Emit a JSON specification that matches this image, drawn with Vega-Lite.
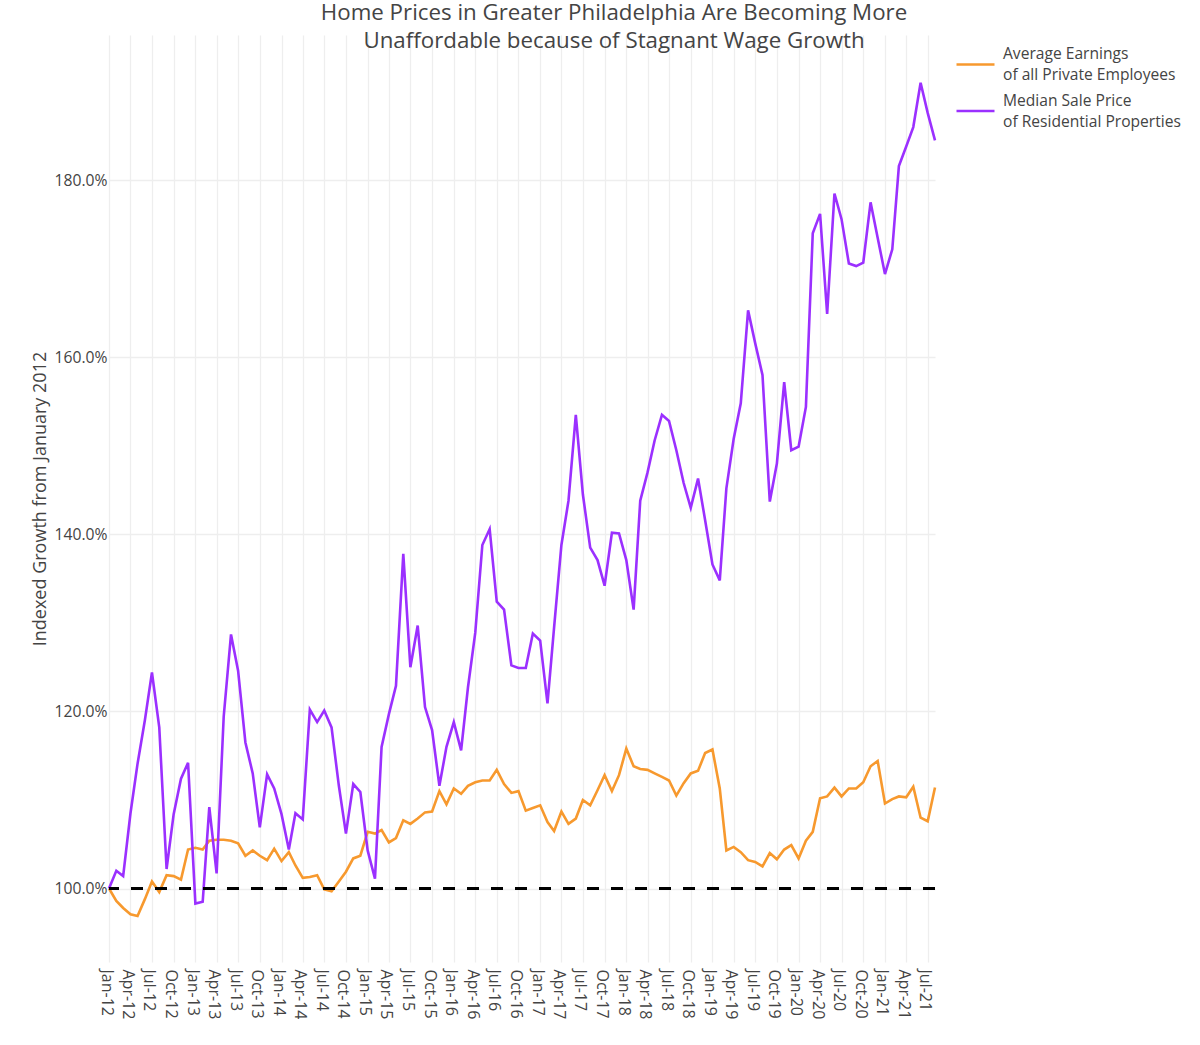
{
  "$schema": "https://vega.github.io/schema/vega-lite/v6.json",
  "autosize": {"type": "none"},
  "padding": {"left": 109, "top": 35, "right": 265, "bottom": 83},
  "width": 826,
  "height": 927,
  "background": "white",
  "title": {
    "text": ["Home Prices in Greater Philadelphia Are Becoming More", "Unaffordable because of Stagnant Wage Growth"],
    "font": "Open Sans",
    "fontSize": 22.3,
    "fontWeight": "normal",
    "color": "#444444",
    "anchor": "middle",
    "frame": "group",
    "dx": 92,
    "offset": -17,
    "lineHeight": 28
  },
  "config": {
    "view": {"stroke": null},
    "font": "Open Sans",
    "axis": {"gridColor": "#eeeeee", "gridWidth": 1.3, "domain": false, "ticks": false, "labelColor": "#444444", "labelFont": "Open Sans", "titleColor": "#444444", "titleFont": "Open Sans", "titleFontWeight": "normal"}
  },
  "data": {
    "values": [
      {"date": "2012-01-01", "Average Earnings": 100.0, "Median Sale Price": 100.0},
      {"date": "2012-02-01", "Average Earnings": 98.6, "Median Sale Price": 102.0},
      {"date": "2012-03-01", "Average Earnings": 97.8, "Median Sale Price": 101.4},
      {"date": "2012-04-01", "Average Earnings": 97.1, "Median Sale Price": 108.5},
      {"date": "2012-05-01", "Average Earnings": 96.9, "Median Sale Price": 114.1},
      {"date": "2012-06-01", "Average Earnings": 98.8, "Median Sale Price": 119.0},
      {"date": "2012-07-01", "Average Earnings": 100.8, "Median Sale Price": 124.4},
      {"date": "2012-08-01", "Average Earnings": 99.6, "Median Sale Price": 118.2},
      {"date": "2012-09-01", "Average Earnings": 101.5, "Median Sale Price": 102.2},
      {"date": "2012-10-01", "Average Earnings": 101.4, "Median Sale Price": 108.4},
      {"date": "2012-11-01", "Average Earnings": 101.0, "Median Sale Price": 112.4},
      {"date": "2012-12-01", "Average Earnings": 104.4, "Median Sale Price": 114.2},
      {"date": "2013-01-01", "Average Earnings": 104.6, "Median Sale Price": 98.3},
      {"date": "2013-02-01", "Average Earnings": 104.4, "Median Sale Price": 98.5},
      {"date": "2013-03-01", "Average Earnings": 105.4, "Median Sale Price": 109.2},
      {"date": "2013-04-01", "Average Earnings": 105.5, "Median Sale Price": 101.7},
      {"date": "2013-05-01", "Average Earnings": 105.5, "Median Sale Price": 119.4},
      {"date": "2013-06-01", "Average Earnings": 105.4, "Median Sale Price": 128.7},
      {"date": "2013-07-01", "Average Earnings": 105.1, "Median Sale Price": 124.6},
      {"date": "2013-08-01", "Average Earnings": 103.7, "Median Sale Price": 116.5},
      {"date": "2013-09-01", "Average Earnings": 104.3, "Median Sale Price": 113.0},
      {"date": "2013-10-01", "Average Earnings": 103.7, "Median Sale Price": 106.9},
      {"date": "2013-11-01", "Average Earnings": 103.2, "Median Sale Price": 112.9},
      {"date": "2013-12-01", "Average Earnings": 104.5, "Median Sale Price": 111.3},
      {"date": "2014-01-01", "Average Earnings": 103.1, "Median Sale Price": 108.4},
      {"date": "2014-02-01", "Average Earnings": 104.1, "Median Sale Price": 104.4},
      {"date": "2014-03-01", "Average Earnings": 102.6, "Median Sale Price": 108.5},
      {"date": "2014-04-01", "Average Earnings": 101.2, "Median Sale Price": 107.8},
      {"date": "2014-05-01", "Average Earnings": 101.3, "Median Sale Price": 120.2},
      {"date": "2014-06-01", "Average Earnings": 101.5, "Median Sale Price": 118.8},
      {"date": "2014-07-01", "Average Earnings": 99.9, "Median Sale Price": 120.1},
      {"date": "2014-08-01", "Average Earnings": 99.7, "Median Sale Price": 118.2},
      {"date": "2014-09-01", "Average Earnings": 100.8, "Median Sale Price": 111.6},
      {"date": "2014-10-01", "Average Earnings": 101.9, "Median Sale Price": 106.2},
      {"date": "2014-11-01", "Average Earnings": 103.4, "Median Sale Price": 111.8},
      {"date": "2014-12-01", "Average Earnings": 103.7, "Median Sale Price": 110.9},
      {"date": "2015-01-01", "Average Earnings": 106.4, "Median Sale Price": 104.3},
      {"date": "2015-02-01", "Average Earnings": 106.2, "Median Sale Price": 101.1},
      {"date": "2015-03-01", "Average Earnings": 106.6, "Median Sale Price": 116.0},
      {"date": "2015-04-01", "Average Earnings": 105.2, "Median Sale Price": 119.7},
      {"date": "2015-05-01", "Average Earnings": 105.7, "Median Sale Price": 122.9},
      {"date": "2015-06-01", "Average Earnings": 107.7, "Median Sale Price": 137.8},
      {"date": "2015-07-01", "Average Earnings": 107.3, "Median Sale Price": 125.0},
      {"date": "2015-08-01", "Average Earnings": 107.9, "Median Sale Price": 129.7},
      {"date": "2015-09-01", "Average Earnings": 108.6, "Median Sale Price": 120.5},
      {"date": "2015-10-01", "Average Earnings": 108.7, "Median Sale Price": 117.9},
      {"date": "2015-11-01", "Average Earnings": 111.0, "Median Sale Price": 111.6},
      {"date": "2015-12-01", "Average Earnings": 109.5, "Median Sale Price": 116.0},
      {"date": "2016-01-01", "Average Earnings": 111.3, "Median Sale Price": 118.8},
      {"date": "2016-02-01", "Average Earnings": 110.7, "Median Sale Price": 115.6},
      {"date": "2016-03-01", "Average Earnings": 111.6, "Median Sale Price": 122.7},
      {"date": "2016-04-01", "Average Earnings": 112.0, "Median Sale Price": 128.9},
      {"date": "2016-05-01", "Average Earnings": 112.2, "Median Sale Price": 138.8},
      {"date": "2016-06-01", "Average Earnings": 112.2, "Median Sale Price": 140.6},
      {"date": "2016-07-01", "Average Earnings": 113.4, "Median Sale Price": 132.4},
      {"date": "2016-08-01", "Average Earnings": 111.8, "Median Sale Price": 131.5},
      {"date": "2016-09-01", "Average Earnings": 110.8, "Median Sale Price": 125.2},
      {"date": "2016-10-01", "Average Earnings": 111.0, "Median Sale Price": 124.9},
      {"date": "2016-11-01", "Average Earnings": 108.8, "Median Sale Price": 124.9},
      {"date": "2016-12-01", "Average Earnings": 109.1, "Median Sale Price": 128.8},
      {"date": "2017-01-01", "Average Earnings": 109.4, "Median Sale Price": 128.0},
      {"date": "2017-02-01", "Average Earnings": 107.5, "Median Sale Price": 120.9},
      {"date": "2017-03-01", "Average Earnings": 106.5, "Median Sale Price": 129.5},
      {"date": "2017-04-01", "Average Earnings": 108.7, "Median Sale Price": 138.8},
      {"date": "2017-05-01", "Average Earnings": 107.3, "Median Sale Price": 143.8},
      {"date": "2017-06-01", "Average Earnings": 107.9, "Median Sale Price": 153.5},
      {"date": "2017-07-01", "Average Earnings": 110.0, "Median Sale Price": 144.5},
      {"date": "2017-08-01", "Average Earnings": 109.4, "Median Sale Price": 138.5},
      {"date": "2017-09-01", "Average Earnings": 111.1, "Median Sale Price": 137.1},
      {"date": "2017-10-01", "Average Earnings": 112.8, "Median Sale Price": 134.2},
      {"date": "2017-11-01", "Average Earnings": 111.0, "Median Sale Price": 140.2},
      {"date": "2017-12-01", "Average Earnings": 112.8, "Median Sale Price": 140.1},
      {"date": "2018-01-01", "Average Earnings": 115.8, "Median Sale Price": 137.1},
      {"date": "2018-02-01", "Average Earnings": 113.8, "Median Sale Price": 131.5},
      {"date": "2018-03-01", "Average Earnings": 113.5, "Median Sale Price": 143.8},
      {"date": "2018-04-01", "Average Earnings": 113.4, "Median Sale Price": 147.0},
      {"date": "2018-05-01", "Average Earnings": 113.0, "Median Sale Price": 150.6},
      {"date": "2018-06-01", "Average Earnings": 112.6, "Median Sale Price": 153.5},
      {"date": "2018-07-01", "Average Earnings": 112.2, "Median Sale Price": 152.8},
      {"date": "2018-08-01", "Average Earnings": 110.5, "Median Sale Price": 149.5},
      {"date": "2018-09-01", "Average Earnings": 111.9, "Median Sale Price": 145.8},
      {"date": "2018-10-01", "Average Earnings": 113.0, "Median Sale Price": 143.0},
      {"date": "2018-11-01", "Average Earnings": 113.3, "Median Sale Price": 146.3},
      {"date": "2018-12-01", "Average Earnings": 115.3, "Median Sale Price": 141.6},
      {"date": "2019-01-01", "Average Earnings": 115.7, "Median Sale Price": 136.6},
      {"date": "2019-02-01", "Average Earnings": 111.3, "Median Sale Price": 134.8},
      {"date": "2019-03-01", "Average Earnings": 104.3, "Median Sale Price": 145.2},
      {"date": "2019-04-01", "Average Earnings": 104.7, "Median Sale Price": 150.8},
      {"date": "2019-05-01", "Average Earnings": 104.1, "Median Sale Price": 154.8},
      {"date": "2019-06-01", "Average Earnings": 103.2, "Median Sale Price": 165.3},
      {"date": "2019-07-01", "Average Earnings": 103.0, "Median Sale Price": 161.6},
      {"date": "2019-08-01", "Average Earnings": 102.5, "Median Sale Price": 158.0},
      {"date": "2019-09-01", "Average Earnings": 104.0, "Median Sale Price": 143.7},
      {"date": "2019-10-01", "Average Earnings": 103.3, "Median Sale Price": 148.0},
      {"date": "2019-11-01", "Average Earnings": 104.4, "Median Sale Price": 157.2},
      {"date": "2019-12-01", "Average Earnings": 104.9, "Median Sale Price": 149.5},
      {"date": "2020-01-01", "Average Earnings": 103.4, "Median Sale Price": 149.9},
      {"date": "2020-02-01", "Average Earnings": 105.4, "Median Sale Price": 154.4},
      {"date": "2020-03-01", "Average Earnings": 106.4, "Median Sale Price": 174.0},
      {"date": "2020-04-01", "Average Earnings": 110.2, "Median Sale Price": 176.2},
      {"date": "2020-05-01", "Average Earnings": 110.4, "Median Sale Price": 164.9},
      {"date": "2020-06-01", "Average Earnings": 111.4, "Median Sale Price": 178.5},
      {"date": "2020-07-01", "Average Earnings": 110.4, "Median Sale Price": 175.6},
      {"date": "2020-08-01", "Average Earnings": 111.3, "Median Sale Price": 170.6},
      {"date": "2020-09-01", "Average Earnings": 111.3, "Median Sale Price": 170.3},
      {"date": "2020-10-01", "Average Earnings": 112.0, "Median Sale Price": 170.7},
      {"date": "2020-11-01", "Average Earnings": 113.8, "Median Sale Price": 177.5},
      {"date": "2020-12-01", "Average Earnings": 114.4, "Median Sale Price": 173.5},
      {"date": "2021-01-01", "Average Earnings": 109.6, "Median Sale Price": 169.4},
      {"date": "2021-02-01", "Average Earnings": 110.1, "Median Sale Price": 172.2},
      {"date": "2021-03-01", "Average Earnings": 110.4, "Median Sale Price": 181.6},
      {"date": "2021-04-01", "Average Earnings": 110.3, "Median Sale Price": 183.8},
      {"date": "2021-05-01", "Average Earnings": 111.5, "Median Sale Price": 186.0},
      {"date": "2021-06-01", "Average Earnings": 108.0, "Median Sale Price": 191.0},
      {"date": "2021-07-01", "Average Earnings": 107.6, "Median Sale Price": 187.6},
      {"date": "2021-08-01", "Average Earnings": 111.4, "Median Sale Price": 184.5}
    ]
  },
  "transform": [
    {"fold": ["Average Earnings", "Median Sale Price"], "as": ["series", "value"]}
  ],
  "layer": [
    {
      "mark": {"type": "line", "strokeWidth": 2.6, "interpolate": "linear"},
      "encoding": {
        "x": {
          "field": "date",
          "type": "temporal",
          "scale": {"type": "utc", "nice": false},
          "axis": {
            "title": null,
            "format": "%b-%y",
            "tickCount": {"interval": "month", "step": 3},
            "labelAngle": 90,
            "labelFontSize": 16,
            "labelPadding": 7,
            "labelOffset": -3,
            "labelOverlap": false,
            "labelFlush": false,
            "grid": true
          }
        },
        "y": {
          "field": "value",
          "type": "quantitative",
          "scale": {"domain": [91.7, 196.4], "nice": false, "zero": false},
          "axis": {
            "title": "Indexed Growth from January 2012",
            "titleFontSize": 18,
            "titlePadding": 5,
            "values": [100, 120, 140, 160, 180],
            "labelExpr": "format(datum.value, '.1f') + '%'",
            "labelFontSize": 15.7,
            "labelPadding": 2,
            "grid": true
          }
        },
        "color": {
          "field": "series",
          "type": "nominal",
          "scale": {"domain": ["Average Earnings", "Median Sale Price"], "range": ["#f7992e", "#9b30ff"]},
          "legend": {
            "title": null,
            "orient": "none",
            "legendX": 846,
            "legendY": 9,
            "symbolType": "stroke",
            "symbolSize": 1444,
            "symbolStrokeWidth": 2.6,
            "labelFontSize": 15.6,
            "labelColor": "#444444",
            "labelFont": "Open Sans",
            "labelOffset": 7,
            "labelLimit": 400,
            "rowPadding": 6.5,
            "labelExpr": "datum.label == 'Average Earnings' ? ['Average Earnings', 'of all Private Employees'] : ['Median Sale Price', 'of Residential Properties']",
            "encode": {"labels": {"update": {"lineHeight": {"value": 21}, "dy": {"value": -10.5}}}}
          }
        }
      }
    },
    {
      "mark": {"type": "rule", "color": "black", "strokeWidth": 3, "strokeDash": [12, 12]},
      "encoding": {"y": {"datum": 100, "type": "quantitative"}}
    }
  ]
}
